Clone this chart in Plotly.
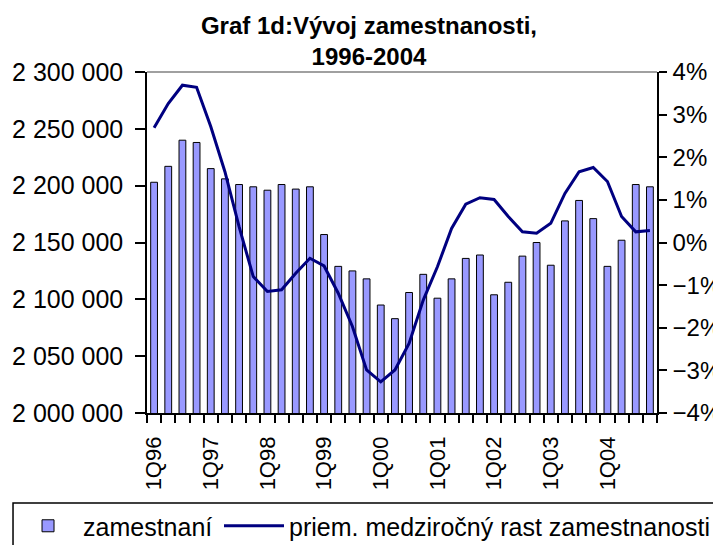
import plotly.graph_objects as go

quarters = [f"{q}Q{y:02d}" for y in [96, 97, 98, 99, 0, 1, 2, 3, 4] for q in [1, 2, 3, 4]]
tick_labels = [c if c.startswith("1Q") else "" for c in quarters]

employment = [2203000, 2217000, 2240000, 2238000, 2215000, 2206000, 2201000, 2199000,
              2196000, 2201000, 2197000, 2199000, 2157000, 2129000, 2125000, 2118000,
              2095000, 2083000, 2106000, 2122000, 2101000, 2118000, 2136000, 2139000,
              2104000, 2115000, 2138000, 2150000, 2130000, 2169000, 2187000, 2171000,
              2129000, 2152000, 2201000, 2199000]

growth = [2.69, 3.26, 3.69, 3.64, 2.72, 1.66, 0.37, -0.80, -1.15, -1.11, -0.72, -0.37,
          -0.55, -1.19, -1.97, -2.99, -3.27, -2.99, -2.37, -1.35, -0.57, 0.33, 0.90, 1.05,
          1.01, 0.61, 0.25, 0.22, 0.45, 1.15, 1.66, 1.76, 1.43, 0.61, 0.25, 0.28]

boundaries = [i - 0.5 for i in range(len(quarters) + 1)]

FONT = "Liberation Sans, Arial, sans-serif"

fig = go.Figure()
fig.add_trace(go.Bar(x=quarters, y=employment, name="zamestnaní",
                     marker=dict(color="#9999FF", line=dict(color="black", width=1)),
                     yaxis="y", legend="legend"))
fig.add_trace(go.Scatter(x=quarters, y=growth, name="priem. medziročný rast zamestnanosti",
                         mode="lines", line=dict(color="#000080", width=3), yaxis="y2",
                         legend="legend2"))

fig.update_layout(
    width=713, height=537,
    margin=dict(l=139, r=64, t=64, b=132, autoexpand=False),
    paper_bgcolor="white", plot_bgcolor="white",
    separators=", ",
    font=dict(family=FONT, color="black", size=22),
    bargap=0.52,
    title=dict(text="<b>Graf 1d:Vývoj zamestnanosti,<br>1996-2004</b>",
               font=dict(family=FONT, size=24, color="black"),
               x=0.5063, xref="container", xanchor="center",
               y=0.952, yref="container", yanchor="top"),
    xaxis=dict(type="category", categoryorder="array", categoryarray=quarters,
               range=[-0.5, len(quarters) - 0.5],
               tickmode="array", tickvals=quarters, ticktext=tick_labels,
               tickson="boundaries", ticks="outside", ticklen=8, tickwidth=1.5,
               tickcolor="black", tickangle=-90, showline=True, linecolor="black",
               linewidth=1.5, showgrid=False, zeroline=False, automargin=False,
               ticklabelstandoff=13,
               tickfont=dict(size=22, family=FONT)),
    xaxis3=dict(overlaying="x", anchor="y", range=[-0.5, len(quarters) - 0.5],
                tickmode="array", tickvals=boundaries, ticks="inside", ticklen=5,
                tickwidth=1.5, tickcolor="black", showticklabels=False,
                showline=False, showgrid=False, zeroline=False),
    yaxis=dict(range=[2000000, 2300000], dtick=50000, tickformat=",d",
               ticks="outside", ticklen=10, tickwidth=1.5, tickcolor="black",
               showline=True, linecolor="black", linewidth=1.5, showgrid=False,
               zeroline=False, automargin=False, ticklabelstandoff=7,
               tickfont=dict(size=25, family=FONT)),
    yaxis2=dict(range=[-4, 4], dtick=1, ticksuffix="%", overlaying="y", side="right",
                anchor="x", ticks="outside", ticklen=8, tickwidth=1.5, tickcolor="black",
                showline=True, linecolor="black", linewidth=1.5, showgrid=False,
                zeroline=False, automargin=False, ticklabelstandoff=1,
                tickfont=dict(size=24, family=FONT)),
    yaxis3=dict(range=[2000000, 2300000], dtick=50000, overlaying="y", side="left",
                anchor="x", ticks="inside", ticklen=7, tickwidth=1.5, tickcolor="black",
                showticklabels=False, showline=False, showgrid=False, zeroline=False),
    yaxis4=dict(range=[-4, 4], dtick=1, overlaying="y", side="right", anchor="x",
                ticks="inside", ticklen=8, tickwidth=1.5, tickcolor="black",
                showticklabels=False, showline=False, showgrid=False, zeroline=False),
    legend=dict(orientation="h", x=-0.2627, xanchor="left", y=-0.264, yanchor="top",
                borderwidth=0, bgcolor="rgba(0,0,0,0)",
                font=dict(size=25, family=FONT), itemwidth=60),
    legend2=dict(orientation="h", x=(219 - 147) / 510, xanchor="left", y=-0.264,
                 yanchor="top", borderwidth=0, bgcolor="rgba(0,0,0,0)",
                 font=dict(size=25, family=FONT), itemwidth=60),
    showlegend=True,
    shapes=[
        dict(type="line", xref="x domain", yref="y domain", x0=0, x1=1, y0=1, y1=1,
             line=dict(color="#808080", width=1.5)),
        dict(type="rect", xref="paper", yref="paper", x0=-0.2627, x1=1.1157,
             y0=-0.2639, y1=-0.6, line=dict(color="black", width=1.5),
             fillcolor="rgba(0,0,0,0)", layer="below"),
    ],
)

fig.write_html("out.html")
